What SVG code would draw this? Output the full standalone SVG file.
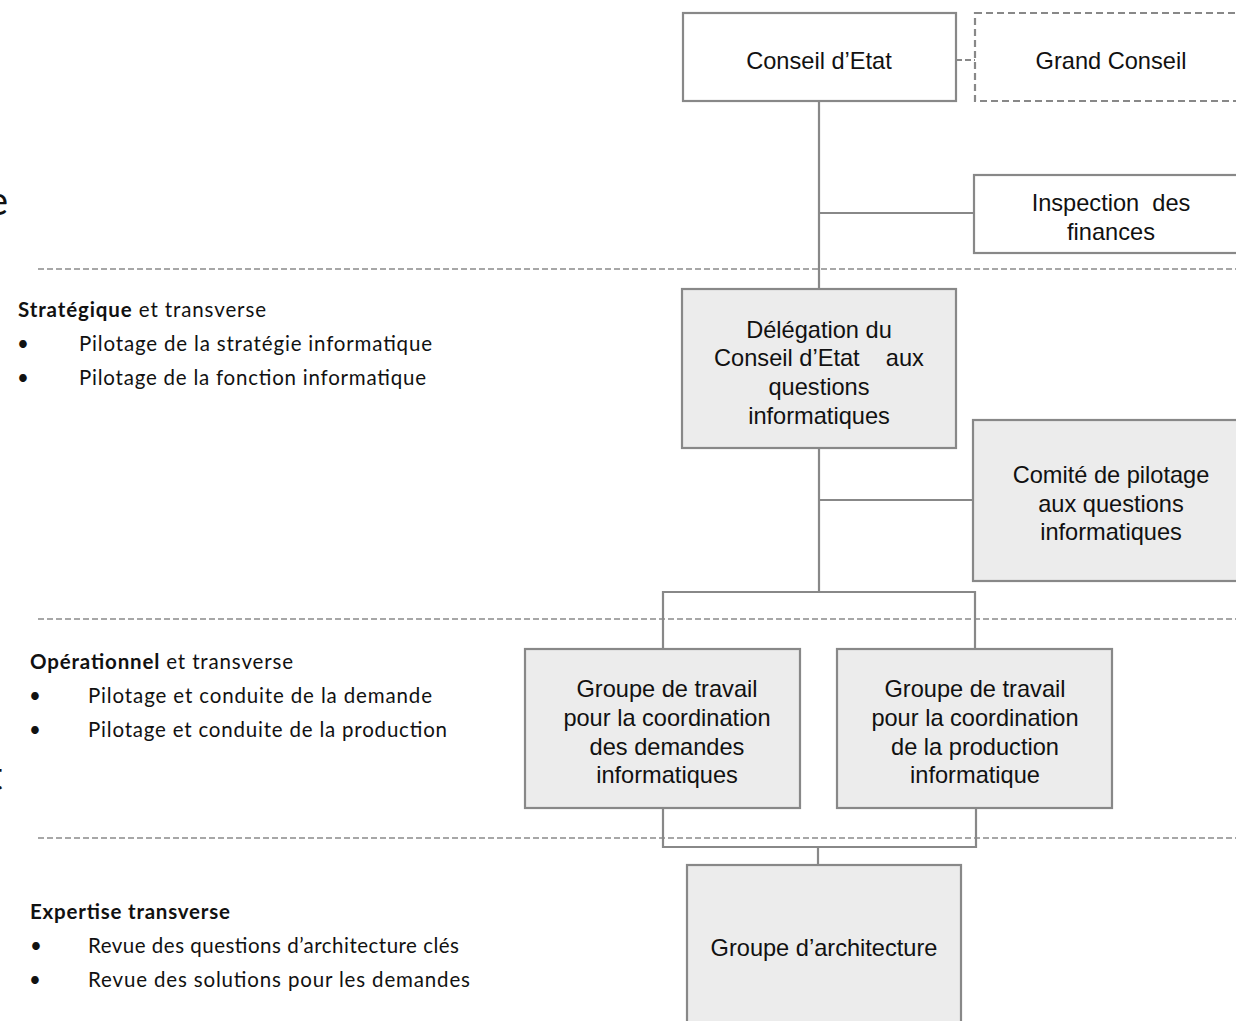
<svg xmlns="http://www.w3.org/2000/svg" width="1236" height="1021" viewBox="0 0 1236 1021">
  <style>
    .box { stroke: #888888; stroke-width: 2.2; fill: #ffffff; }
    .grey { fill: #ececec; }
    .dashbox { stroke-dasharray: 7 4; }
    .lbl { font-family: "Liberation Sans", Arial, sans-serif; font-size: 23.6px; fill: #111111; text-anchor: middle; }
    .conn { stroke: #888888; stroke-width: 2.2; fill: none; }
    .sep { stroke: #8a8a8a; stroke-width: 1.6; stroke-dasharray: 6 3; fill: none; }
    .side { font-family: Lato, "Noto Sans", sans-serif; font-size: 20.5px; fill: #111111; }
    .b { font-weight: bold; }
    .edge { font-family: Lato, "Noto Sans", sans-serif; font-size: 40px; fill: #111111; }
  </style>

  <rect width="1236" height="1021" fill="#ffffff"/>

  <!-- level separators -->
  <g id="separators">
    <line class="sep" x1="38" y1="269" x2="1236" y2="269"/>
    <line class="sep" x1="38" y1="619" x2="1236" y2="619"/>
    <line class="sep" x1="38" y1="838" x2="1236" y2="838"/>
  </g>

  <!-- connectors -->
  <g id="connectors">
    <line class="conn" x1="819" y1="101" x2="819" y2="289"/>
    <line class="conn" x1="819" y1="213" x2="974" y2="213"/>
    <line class="conn" x1="819" y1="448" x2="819" y2="592"/>
    <line class="conn" x1="819" y1="500" x2="973" y2="500"/>
    <path class="conn" d="M663,649 V592 H975 V649"/>
    <path class="conn" d="M663,808 V847 H976 V808"/>
    <line class="conn" x1="818" y1="847" x2="818" y2="865"/>
    <line class="conn" x1="956" y1="60" x2="975" y2="60" stroke-dasharray="6 3"/>
  </g>

  <!-- nodes -->
  <g id="conseil-etat">
    <rect class="box" x="683" y="13" width="273" height="88"/>
    <text class="lbl" x="819" y="69">Conseil d’Etat</text>
  </g>
  <g id="grand-conseil">
    <rect class="box dashbox" x="975" y="13" width="270" height="88"/>
    <text class="lbl" x="1111" y="69">Grand Conseil</text>
  </g>
  <g id="inspection-finances">
    <rect class="box" x="974" y="175" width="270" height="78"/>
    <text class="lbl" x="1111" y="211" xml:space="preserve">Inspection  des</text>
    <text class="lbl" x="1111" y="240">finances</text>
  </g>
  <g id="delegation">
    <rect class="box grey" x="682" y="289" width="274" height="159"/>
    <text class="lbl" x="819" y="338">Délégation du</text>
    <text class="lbl" x="819" y="366" xml:space="preserve">Conseil d’Etat    aux</text>
    <text class="lbl" x="819" y="395">questions</text>
    <text class="lbl" x="819" y="424">informatiques</text>
  </g>
  <g id="comite-pilotage">
    <rect class="box grey" x="973" y="420" width="272" height="161"/>
    <text class="lbl" x="1111" y="483">Comité de pilotage</text>
    <text class="lbl" x="1111" y="512">aux questions</text>
    <text class="lbl" x="1111" y="540">informatiques</text>
  </g>
  <g id="gt-demandes">
    <rect class="box grey" x="525" y="649" width="275" height="159"/>
    <text class="lbl" x="667" y="697">Groupe de travail</text>
    <text class="lbl" x="667" y="726">pour la coordination</text>
    <text class="lbl" x="667" y="755">des demandes</text>
    <text class="lbl" x="667" y="783">informatiques</text>
  </g>
  <g id="gt-production">
    <rect class="box grey" x="837" y="649" width="275" height="159"/>
    <text class="lbl" x="975" y="697">Groupe de travail</text>
    <text class="lbl" x="975" y="726">pour la coordination</text>
    <text class="lbl" x="975" y="755">de la production</text>
    <text class="lbl" x="975" y="783">informatique</text>
  </g>
  <g id="groupe-architecture">
    <rect class="box grey" x="687" y="865" width="274" height="170"/>
    <text class="lbl" x="824" y="956">Groupe d’architecture</text>
  </g>

  <!-- level descriptions -->
  <g id="level-strategique">
    <text class="side" x="18" y="317" textLength="248"><tspan class="b">Stratégique</tspan> et transverse</text>
    <text class="side" x="17" y="351">•</text>
    <text class="side" x="79" y="351" textLength="353">Pilotage de la stratégie informatique</text>
    <text class="side" x="17" y="385">•</text>
    <text class="side" x="79" y="385" textLength="347">Pilotage de la fonction informatique</text>
  </g>
  <g id="level-operationnel">
    <text class="side" x="30" y="669" textLength="263"><tspan class="b">Opérationnel</tspan> et transverse</text>
    <text class="side" x="29" y="703">•</text>
    <text class="side" x="88" y="703" textLength="344">Pilotage et conduite de la demande</text>
    <text class="side" x="29" y="737">•</text>
    <text class="side" x="88" y="737" textLength="359">Pilotage et conduite de la production</text>
  </g>
  <g id="level-expertise">
    <text class="side b" x="30" y="919" textLength="200">Expertise transverse</text>
    <text class="side" x="30" y="953" font-size="16">•</text>
    <text class="side" x="88" y="953" textLength="371">Revue des questions d’architecture clés</text>
    <text class="side" x="29" y="987">•</text>
    <text class="side" x="88" y="987" textLength="382">Revue des solutions pour les demandes</text>
  </g>

  <!-- clipped letters at the left edge -->
  <text class="edge" x="-13" y="215">e</text>
  <text class="edge" x="-12" y="790">t</text>
</svg>
